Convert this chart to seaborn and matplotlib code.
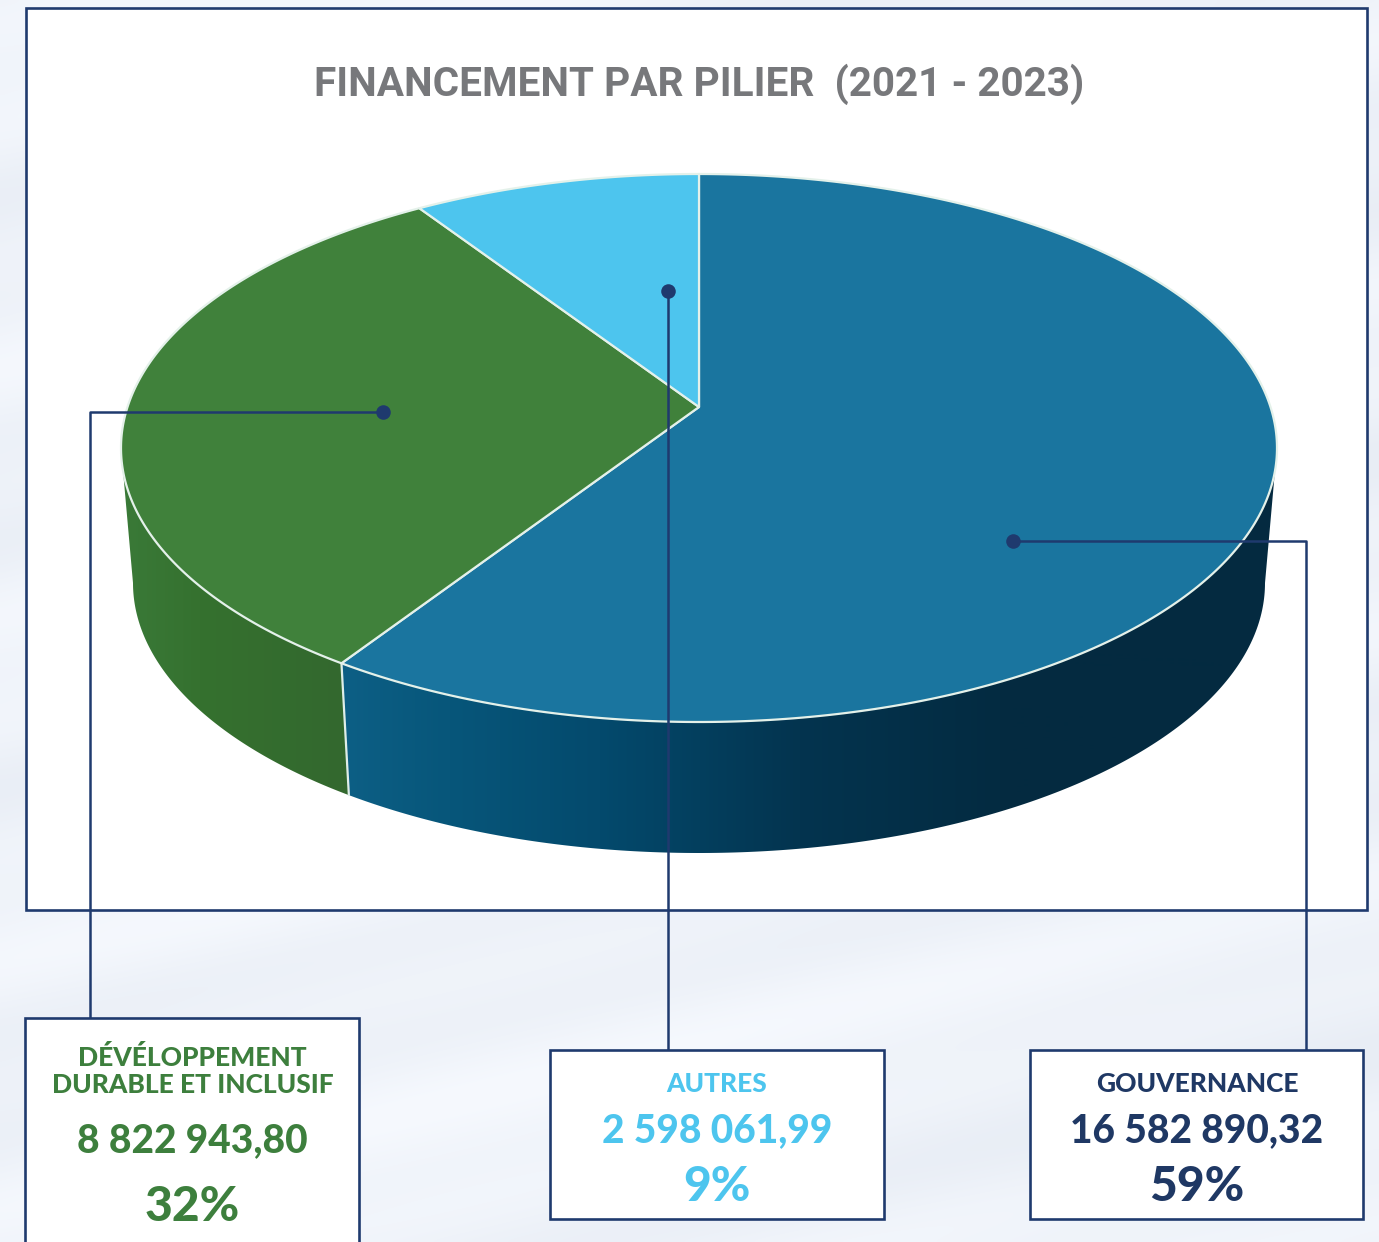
import numpy as np
import seaborn as sns
from matplotlib import pyplot as plt

# values, clockwise from 12 o'clock
piliers = ['GOUVERNANCE', 'DÉVÉLOPPEMENT\nDURABLE ET INCLUSIF', 'AUTRES']
montants = [16582890.32, 8822943.80, 2598061.99]
montants_txt = ['16 582 890,32', '8 822 943,80', '2 598 061,99']
pourcents = ['59%', '32%', '9%']
titre = 'FINANCEMENT PAR PILIER  (2021 - 2023)'

couleurs = ['#1a759f', '#40813b', '#4dc5ee']
couleurs_txt = ['#1f3864', '#3d7f3d', '#4dc5ee']
marine = '#1f3a6e'

# colours of the side wall, from left to right
side_x = {0: [345, 450, 600, 800, 1000, 1280], 1: [120, 200, 345]}
side_rgb = {0: ['#0d5f85', '#07567a', '#044a6d', '#03344f', '#042b41', '#042a40'],
            1: ['#3a7a38', '#35712f', '#33682e']}

sns.set_theme(style='white')
fig, ax = plt.subplots(figsize=(13.79, 12.42), dpi=100)
ax.set_position([0, 0, 1, 1])
ax.axis('off')

# pale striped page behind everything
xx, yy = np.meshgrid(np.arange(0, 1379, 4), np.arange(0, 1242, 4))
u = yy + 0.24 * xx
tex = np.sin(u / 46) + 0.6 * np.sin(u / 19 + 1) + 0.5 * np.sin(xx / 300)
ax.imshow(tex, extent=(0, 1379, 1242, 0), cmap=sns.blend_palette(['#e8edf5', '#f6f9fe'], as_cmap=True),
          aspect='auto', zorder=0, interpolation='bicubic')

# white frame
ax.fill([26, 1367, 1367, 26], [8, 8, 910, 910], fc='white', ec=marine, lw=1.9, zorder=1)

cx, cy, rx, ry = 699, 448, 578, 274
cx2, cy2, rx2, ry2 = 699, 583, 566, 270
apex_y = 407
k = 0.86


def phi(theta):
    # perspective: angle on the pie -> angle on the drawn ellipse
    return 2 * np.arctan2(k * np.sin(theta / 2), np.cos(theta / 2))


def hex_rgb(c):
    return np.array(sns.color_palette([c])[0])


parts = np.array(montants) / sum(montants)
bords = np.concatenate([[0], np.cumsum(parts)]) * 2 * np.pi

# side wall: horizontal gradient clipped to the wall outline
for i in [0, 1]:
    p0, p1 = phi(bords[i]), phi(bords[i + 1])
    p0, p1 = max(p0, np.pi / 2), min(p1, 3 * np.pi / 2)
    pp = np.linspace(p0, p1, 200)
    xs = np.r_[cx + rx * np.sin(pp), (cx2 + rx2 * np.sin(pp))[::-1]]
    ys = np.r_[cy - ry * np.cos(pp), (cy2 - ry2 * np.cos(pp))[::-1]]
    mur = ax.fill(xs, ys, fc='none', ec='none', zorder=2)[0]
    rgb = np.array([hex_rgb(c) for c in side_rgb[i]])
    gx = np.arange(xs.min(), xs.max() + 1)
    grad = np.stack([np.interp(gx, side_x[i], rgb[:, n]) for n in range(3)], axis=-1)[None, :, :]
    im = ax.imshow(grad, extent=(gx[0], gx[-1], ys.max(), ys.min()), aspect='auto', zorder=2)
    im.set_clip_path(mur)

# seam between the two visible walls
p = phi(bords[1])
ax.plot([cx + rx * np.sin(p), cx2 + rx2 * np.sin(p)], [cy - ry * np.cos(p), cy2 - ry2 * np.cos(p)],
        color='#dfeee8', lw=1.6, zorder=3)

# top face
for i in range(3):
    pp = phi(np.linspace(bords[i], bords[i + 1], 300))
    ax.fill(np.r_[cx, cx + rx * np.sin(pp)], np.r_[apex_y, cy - ry * np.cos(pp)],
            fc=couleurs[i], ec='#e4f1ea', lw=1.6, joinstyle='round', zorder=4)

# leaders
ax.plot([1013, 1306, 1306], [541, 541, 1050], color=marine, lw=1.8, zorder=5)
ax.plot([383, 90, 90], [412, 412, 1018], color=marine, lw=1.8, zorder=5)
ax.plot([668, 668], [291, 1050], color=marine, lw=1.8, zorder=5)
sns.scatterplot(x=[1013, 383, 668], y=[541, 412, 291], color=marine, s=110, linewidth=0, ax=ax, zorder=6)

# boxes
boites = [(1030, 1050, 1363, 1219), (25, 1018, 359, 1260), (550, 1050, 884, 1219)]
for x0, y0, x1, y1 in boites:
    ax.fill([x0, x1, x1, x0], [y0, y0, y1, y1], fc='white', ec=marine, lw=1.9, zorder=7)

ax.text(699, 84, titre, ha='center', va='center', fontsize=29.2, fontweight='bold',
        family='Roboto', color='#77787b', zorder=8)

pos_nom = [1084, 1071, 1084]
pos_val = [1131, 1141, 1131]
pos_pct = [1187, 1207, 1187]
centres = [1197, 192.5, 717]
for i in range(3):
    ax.text(centres[i], pos_nom[i], piliers[i], ha='center', va='center', fontsize=19, fontweight='black',
            family='Lato', color=couleurs_txt[i], linespacing=1.12, zorder=8)
    ax.text(centres[i], pos_val[i], montants_txt[i], ha='center', va='center', fontsize=28, fontweight='black',
            family='Lato', color=couleurs_txt[i], zorder=8)
    ax.text(centres[i], pos_pct[i], pourcents[i], ha='center', va='center', fontsize=34.5, fontweight='black',
            family='Lato', color=couleurs_txt[i], zorder=8)

ax.set_xlim(0, 1379)
ax.set_ylim(1242, 0)
fig.savefig('out.png', dpi=100)
